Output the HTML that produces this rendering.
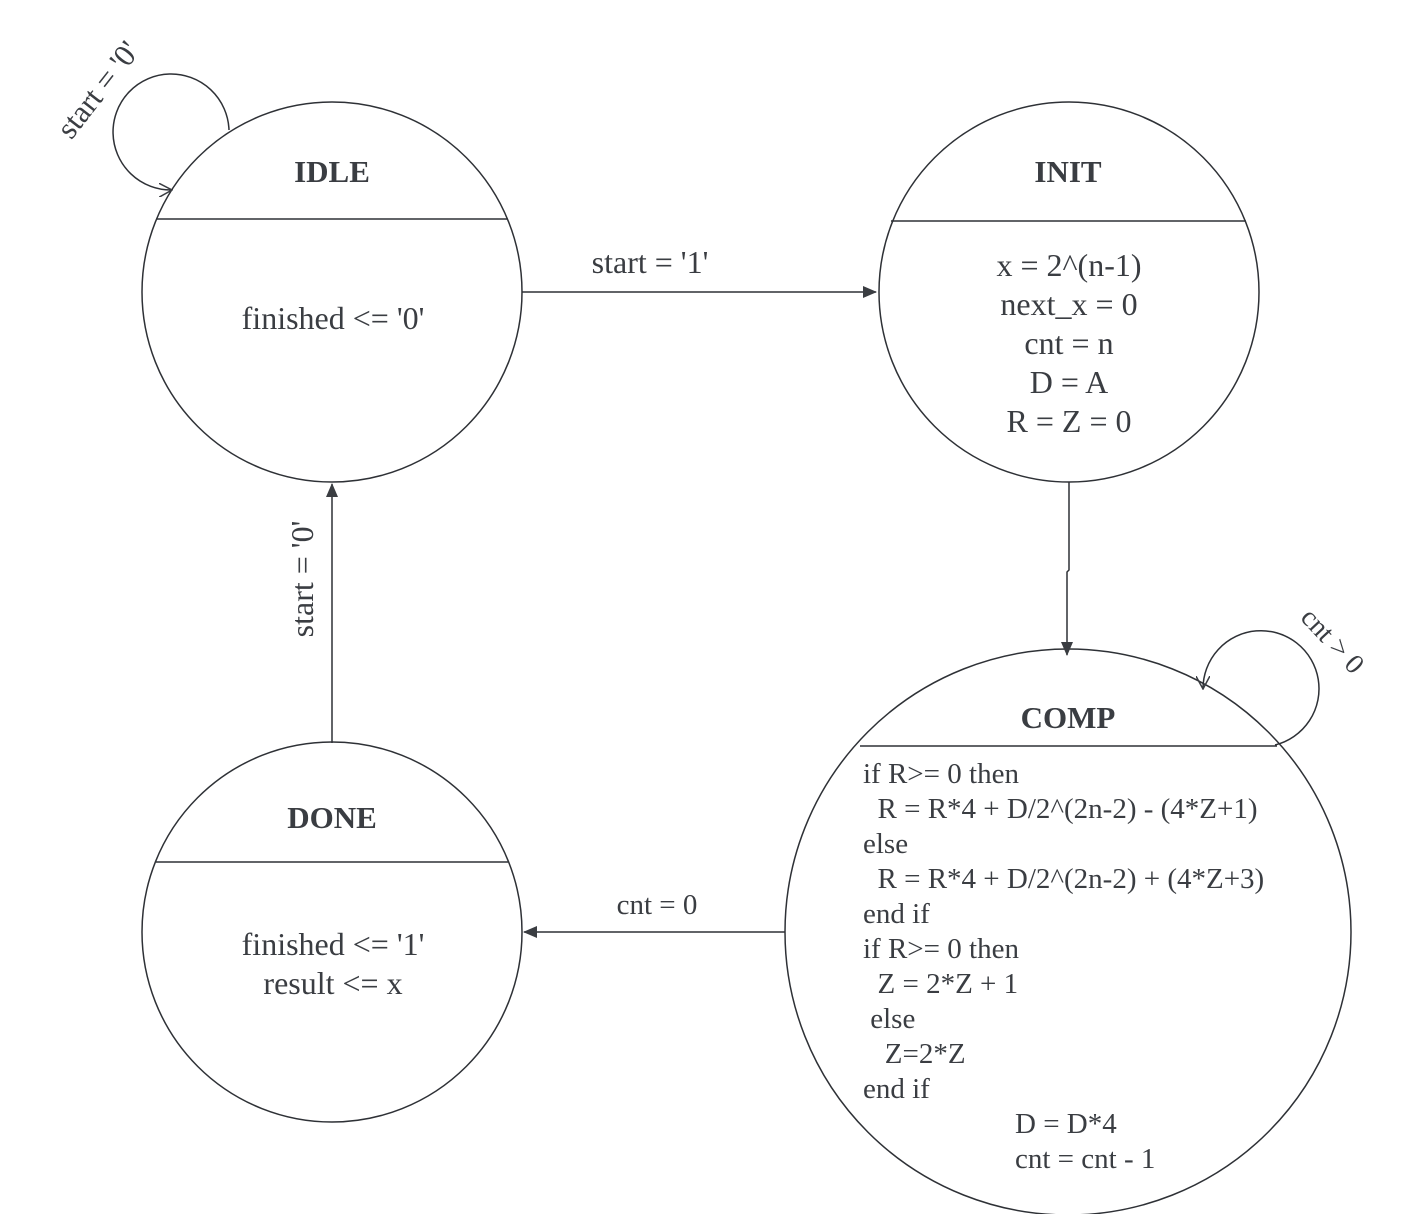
<!DOCTYPE html>
<html><head><style>html,body{margin:0;padding:0;background:#fff}svg{display:block}.pre text{white-space:pre}</style></head>
<body>
<svg width="1422" height="1214" viewBox="0 0 1422 1214" xmlns="http://www.w3.org/2000/svg" font-family="'Liberation Serif', serif" fill="#3a3d42">
<defs>
<marker id="f" markerWidth="14" markerHeight="12" refX="13" refY="6" orient="auto" markerUnits="userSpaceOnUse"><path d="M0,0 L14,6 L0,12 Z" fill="#3a3d42"/></marker>
<marker id="o" markerWidth="14" markerHeight="14" refX="13" refY="7" orient="auto" markerUnits="userSpaceOnUse"><path d="M0,0 L13,7 L0,14" fill="none" stroke="#3a3d42" stroke-width="1.5"/></marker>
</defs>
<g fill="none" stroke="#2e3136" stroke-width="1.5">
<circle cx="332" cy="292" r="190"/>
<circle cx="1069" cy="292" r="190"/>
<circle cx="332" cy="932" r="190"/>
<circle cx="1068" cy="932" r="283"/>
<line x1="156" y1="219" x2="508" y2="219"/>
<line x1="891" y1="221" x2="1246" y2="221"/>
<line x1="156" y1="862" x2="508" y2="862"/>
<line x1="860" y1="746" x2="1277" y2="746"/>
<line x1="522" y1="292" x2="876" y2="292" marker-end="url(#f)"/>
<path d="M1069,482 L1069,570 L1067,572 L1067,655" marker-end="url(#f)"/>
<line x1="332" y1="743" x2="332" y2="484" marker-end="url(#f)"/>
<line x1="785" y1="932" x2="524" y2="932" marker-end="url(#f)"/>
<path d="M229,130 A58,58 0 1 0 172,190" marker-end="url(#o)"/>
<path d="M1275,745 A58,58 0 1 0 1203,689" marker-end="url(#o)"/>
</g>
<g font-size="31" font-weight="bold" text-anchor="middle">
<text x="332" y="182">IDLE</text>
<text x="1068" y="182">INIT</text>
<text x="332" y="828">DONE</text>
<text x="1068" y="728">COMP</text>
</g>
<g font-size="32" text-anchor="middle">
<text x="333" y="329">finished &lt;= '0'</text>
<text x="1069" y="276">x = 2^(n-1)</text>
<text x="1069" y="315">next_x = 0</text>
<text x="1069" y="354">cnt = n</text>
<text x="1069" y="393">D = A</text>
<text x="1069" y="432">R = Z = 0</text>
<text x="333" y="955">finished &lt;= '1'</text>
<text x="333" y="994">result &lt;= x</text>
<text x="650" y="273" font-size="32">start = '1'</text>
<text x="657" y="914" font-size="29">cnt = 0</text>
<text transform="translate(313,579) rotate(-90)" font-size="32">start = '0'</text>
<text transform="translate(106,96) rotate(-52)" font-size="31">start = '0'</text>
<text transform="translate(1326,647) rotate(47)" font-size="28">cnt &gt; 0</text>
</g>
<g font-size="29" class="pre">
<text x="863" y="783">if R&gt;= 0 then</text>
<text x="863" y="818">  R = R*4 + D/2^(2n-2) - (4*Z+1)</text>
<text x="863" y="853">else</text>
<text x="863" y="888">  R = R*4 + D/2^(2n-2) + (4*Z+3)</text>
<text x="863" y="923">end if</text>
<text x="863" y="958">if R&gt;= 0 then</text>
<text x="863" y="993">  Z = 2*Z + 1</text>
<text x="863" y="1028"> else</text>
<text x="863" y="1063">   Z=2*Z</text>
<text x="863" y="1098">end if</text>
<text x="1015" y="1133">D = D*4</text>
<text x="1015" y="1168">cnt = cnt - 1</text>
</g>
</svg>
</body></html>
